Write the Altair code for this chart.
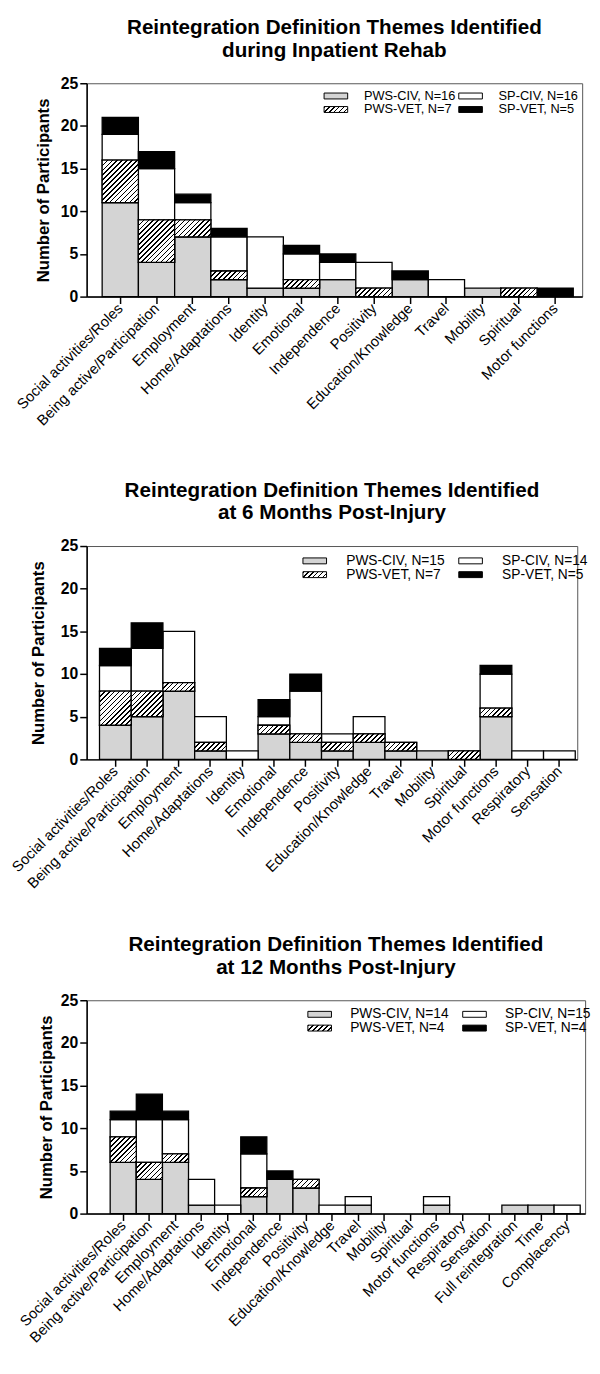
import altair as alt
import pandas as pd

FONT = "Liberation Sans"

# ---------------- data ----------------
themes_inpatient = ["Social activities/Roles", "Being active/Participation", "Employment",
                    "Home/Adaptations", "Identity", "Emotional", "Independence", "Positivity",
                    "Education/Knowledge", "Travel", "Mobility", "Spiritual", "Motor functions"]
themes_6m = themes_inpatient + ["Respiratory", "Sensation"]
themes_12m = themes_6m + ["Full reintegration", "Time", "Complacency"]

groups = ["PWS-CIV", "PWS-VET", "SP-CIV", "SP-VET"]

inp_pws_civ = [11, 4, 7, 2, 1, 1, 2, 0, 2, 0, 1, 0, 0]
inp_pws_vet = [5, 5, 2, 1, 0, 1, 0, 1, 0, 0, 0, 1, 0]
inp_sp_civ = [3, 6, 2, 4, 6, 3, 2, 3, 0, 2, 0, 0, 0]
inp_sp_vet = [2, 2, 1, 1, 0, 1, 1, 0, 1, 0, 0, 0, 1]
inp_n = [16, 7, 16, 5]

m6_pws_civ = [4, 5, 8, 1, 0, 3, 2, 1, 2, 1, 1, 0, 5, 0, 0]
m6_pws_vet = [4, 3, 1, 1, 0, 1, 1, 1, 1, 1, 0, 1, 1, 0, 0]
m6_sp_civ = [3, 5, 6, 3, 1, 1, 5, 1, 2, 0, 0, 0, 4, 1, 1]
m6_sp_vet = [2, 3, 0, 0, 0, 2, 2, 0, 0, 0, 0, 0, 1, 0, 0]
m6_n = [15, 7, 14, 5]

m12_pws_civ = [6, 4, 6, 1, 0, 2, 4, 3, 0, 1, 0, 0, 1, 0, 0, 1, 1, 0]
m12_pws_vet = [3, 2, 1, 0, 0, 1, 0, 1, 0, 0, 0, 0, 0, 0, 0, 0, 0, 0]
m12_sp_civ = [2, 5, 4, 3, 1, 4, 0, 0, 1, 1, 0, 0, 1, 0, 0, 0, 0, 1]
m12_sp_vet = [1, 3, 1, 0, 0, 2, 1, 0, 0, 0, 0, 0, 0, 0, 0, 0, 0, 0]
m12_n = [14, 4, 15, 4]

title_line1 = "Reintegration Definition Themes Identified"
titles_line2 = ["during Inpatient Rehab", "at 6 Months Post-Injury", "at 12 Months Post-Injury"]

y_ticks = [0, 5, 10, 15, 20, 25]

# ---------------- styling helpers ----------------
GRAY = "#d4d4d4"
M_STRIPES = 26      # stripes available in the gradient
PERIOD = 5.0        # hatch period (px, measured along x)
BLACK_FRAC = 0.32


def stops_literal():
    parts = []
    for k in range(M_STRIPES):
        a = k / M_STRIPES
        b = (k + BLACK_FRAC) / M_STRIPES
        c = (k + 1) / M_STRIPES
        for off, col in ((a, "#000"), (b, "#000"), (b, "#fff"), (c, "#fff")):
            parts.append("{offset:%.5f,color:'%s'}" % (off, col))
    return "[" + ",".join(parts) + "]"


STOPS = stops_literal()


def hatch_expr(w, h):
    """45-degree '/' hatch as a linear gradient object (bbox units) for a box w x h px."""
    K = M_STRIPES * PERIOD
    den = "((%s)*(%s)+(%s)*(%s))" % (w, w, h, h)
    return ("{gradient:'linear',x1:0,y1:0,"
            + "x2:%g*(%s)/%s," % (K, w, den)
            + "y2:%g*(%s)/%s," % (K, h, den)
            + "stops:" + STOPS + "}")


def make_table(themes, series, ns):
    rows = []
    for gi, (g, vals) in enumerate(zip(groups, series)):
        label = "%s, N=%d" % (g, ns[gi])
        for t, v in zip(themes, vals):
            rows.append({"theme": t, "group": g, "label": label, "order": gi, "value": v})
    return pd.DataFrame(rows)


def panel(themes, series, ns, line2, width, step, left_off, title_pad, legend_x, legend_y,
          col_pad, row_pad, label_off, legend_font=14, height=217):
    df = make_table(themes, series, ns)
    n = len(themes)
    outer = width - n * step
    po = outer / (2.0 * step)
    align = left_off / outer
    ppu = height / 25.0

    labels = ["%s, N=%d" % (g, v) for g, v in zip(groups, ns)]
    legend_range = [GRAY, alt.ExprRef(expr=hatch_expr("24", "6")), "#ffffff", "#000000"]

    x_enc = alt.X("theme:N", scale=alt.Scale(domain=themes, paddingInner=0, paddingOuter=po,
                                             align=align),
                  axis=alt.Axis(title=None, labelAngle=315, labelAlign="right",
                                labelBaseline="middle", labelFontSize=15, labelPadding=2,
                                tickSize=7, tickWidth=1.5, domainWidth=1.5, labelLimit=400,
                                labelOverlap=False, labelFont=FONT, labelColor="black"))
    y_enc = alt.Y("y0:Q", scale=alt.Scale(domain=[0, 25], nice=False),
                  axis=alt.Axis(title="Number of Participants", titleFontSize=17,
                                titleFontWeight="bold", titleFont=FONT, titleColor="black",
                                titlePadding=title_pad, values=y_ticks, labelFontSize=16,
                                labelFontWeight="bold", labelFont=FONT, labelColor="black",
                                labelPadding=2, tickSize=7, tickWidth=1.5, domainWidth=1.5,
                                grid=False))

    base = alt.Chart(df).transform_filter("datum.value > 0").transform_stack(
        stack="value", groupby=["theme"], sort=[alt.SortField("order", order="ascending")],
        as_=["y0", "y1"])

    bars = base.mark_bar(stroke="black", strokeWidth=1.3).encode(
        x=x_enc, y=y_enc, y2="y1:Q",
        fill=alt.Fill("label:N", scale=alt.Scale(domain=labels, range=legend_range),
                      legend=alt.Legend(title=None, orient="none", legendX=legend_x,
                                        legendY=legend_y, columns=2, padding=0,
                                        columnPadding=col_pad, rowPadding=row_pad,
                                        symbolType="M-2,-0.5H2V0.5H-2Z", symbolSize=144,
                                        symbolStrokeColor="black", symbolStrokeWidth=1,
                                        labelFont=FONT, labelFontSize=legend_font,
                                        labelColor="black", labelOffset=label_off,
                                        labelLimit=300)))

    hatch = base.transform_filter("datum.group == 'PWS-VET'").transform_calculate(
        hatch=hatch_expr("%g" % step, "datum.value*%g" % ppu)
    ).mark_bar(stroke="black", strokeWidth=1.3).encode(
        x=x_enc, y=y_enc, y2="y1:Q",
        fill=alt.Fill("hatch:N", scale=None, legend=None))

    return alt.layer(bars, hatch).properties(
        width=width, height=height,
        title=alt.TitleParams(text=title_line1, subtitle=line2, font=FONT, fontSize=21,
                              fontWeight="bold", color="black", subtitleFont=FONT,
                              subtitleFontSize=21, subtitleFontWeight="bold",
                              subtitleColor="black", subtitlePadding=2, anchor="middle",
                              frame="group", baseline="top", offset=15))


p1 = panel(themes_inpatient, [inp_pws_civ, inp_pws_vet, inp_sp_civ, inp_sp_vet], inp_n,
           titles_line2[0], width=504, step=36.86, left_off=15.77, title_pad=8,
           legend_x=247, legend_y=6.2, col_pad=0, row_pad=-0.5, label_off=22, legend_font=13)
p2 = panel(themes_6m, [m6_pws_civ, m6_pws_vet, m6_sp_civ, m6_sp_vet], m6_n,
           titles_line2[1], width=499, step=32.26, left_off=13.07, title_pad=13,
           legend_x=225, legend_y=8.1, col_pad=11.5, row_pad=0, label_off=25)
p3 = panel(themes_12m, [m12_pws_civ, m12_pws_vet, m12_sp_civ, m12_sp_vet], m12_n,
           titles_line2[2], width=507, step=26.56, left_off=23.92, title_pad=5,
           legend_x=230, legend_y=7.3, col_pad=11.5, row_pad=-5.8, label_off=24)

top = alt.vconcat(p1, p2, spacing=50.7).resolve_scale(fill="independent", x="independent")
chart = alt.vconcat(top, p3, spacing=42.7).resolve_scale(
    fill="independent", x="independent").resolve_legend(fill="independent").properties(
    padding={"left": 0, "top": -3, "right": 0, "bottom": 0}, background="white"
).configure_view(stroke="#555", strokeWidth=1).configure_axis(
    domainColor="black", tickColor="black")

chart.save("out.html", embed_options={"renderer": "svg", "actions": False})
